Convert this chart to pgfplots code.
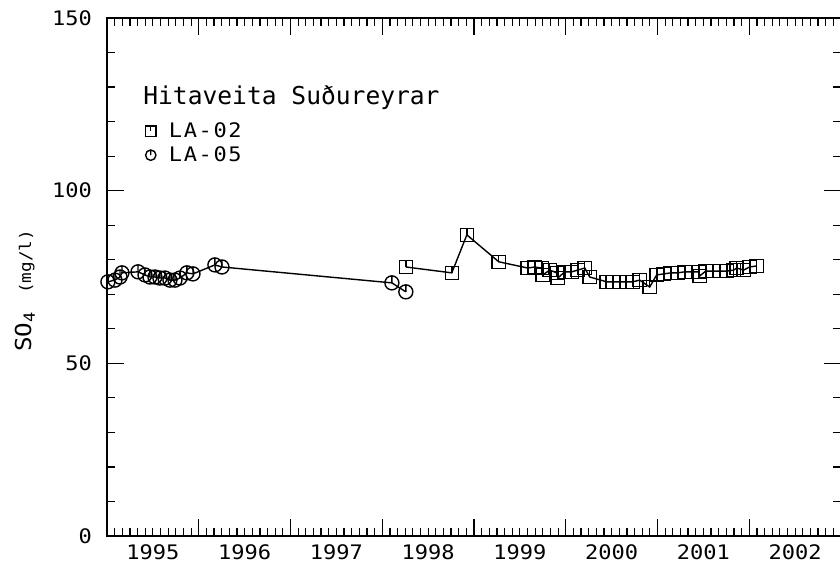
\documentclass[border=0pt]{standalone}
\usepackage{fontspec}
\setmainfont{DejaVu Sans Mono}[FakeStretch=1.1]
\newfontfamily\titlefont{DejaVu Sans Mono}
\usepackage{pgfplots}
\pgfplotsset{compat=1.18}

% square and circle marks with a short stroke from the top edge to the centre
\pgfdeclareplotmark{sqflag}{%
  \pgfpathrectangle{\pgfpoint{-\pgfplotmarksize}{-\pgfplotmarksize}}{\pgfpoint{2\pgfplotmarksize}{2\pgfplotmarksize}}%
  \pgfpathmoveto{\pgfpoint{0pt}{\pgfplotmarksize}}%
  \pgfpathlineto{\pgfpointorigin}%
  \pgfusepathqstroke}
\pgfdeclareplotmark{ciflag}{%
  \pgfpathcircle{\pgfpointorigin}{\pgfplotmarksize}%
  \pgfpathmoveto{\pgfpoint{0pt}{\pgfplotmarksize}}%
  \pgfpathlineto{\pgfpointorigin}%
  \pgfusepathqstroke}

\begin{document}
\begin{tikzpicture}
\begin{axis}[
  scale only axis,
  width=367pt, height=259pt,
  xmin=1995, xmax=2003,
  ymin=0, ymax=150,
  axis line style={line width=0.8pt},
  tick style={line width=0.6pt, black},
  tick align=inside,
  major tick length=8.5pt,
  minor tick length=4pt,
  xtick={1995,1996,1997,1998,1999,2000,2001,2002,2003},
  xticklabels={1995,1996,1997,1998,1999,2000,2001,2002},
  x tick label as interval,
  minor x tick num=11,
  ytick={0,50,100,150},
  yticklabels={0,50,100,150},
  minor y tick num=4,
  /pgf/number format/assume math mode=true,
  ticklabel style={font=\fontsize{10}{12}\selectfont},
  xticklabel style={yshift=-1pt},
  yticklabel style={xshift=-4pt},
  every axis y label/.style={at={(axis description cs:-0.112,0.473)},rotate=90,anchor=center},
  ylabel={\fontsize{11}{13}\selectfont SO\textsubscript{4}\hspace{9pt}{\fontsize{8}{9}\selectfont (mg/l)}},
  legend image code/.code={\draw[#1,only marks,mark size=2.6pt] plot coordinates {(0pt,0pt)};},
  legend style={draw=none, fill=none, inner sep=0pt,
    at={(axis description cs:0.052,0.805)}, anchor=north west,
    font=\fontsize{10}{12}\selectfont\addfontfeature{LetterSpace=8},
    row sep=0pt,
    nodes={inner sep=1.5pt},
    /tikz/column 1/.style={column sep=5pt}},
  legend cell align=left,
]

% LA-02
\addplot[black, line width=0.7pt, mark=sqflag, mark size=3.3pt,
  mark options={solid, line width=0.7pt}] coordinates {
  (1998.257,77.9) (1998.758,76.2) (1998.922,87.2) (1999.270,79.4)
  (1999.586,77.6) (1999.662,77.9) (1999.739,77.6) (1999.749,75.6)
  (1999.826,77.0) (1999.902,76.2) (1999.913,74.7) (1999.989,76.5)
  (2000.065,76.5) (2000.131,77.0) (2000.207,77.6) (2000.261,75.0)
  (2000.447,73.6) (2000.512,73.6) (2000.588,73.6) (2000.664,73.6)
  (2000.730,73.6) (2000.806,74.1) (2000.915,72.1) (2000.991,75.6)
  (2001.068,75.9) (2001.144,76.2) (2001.220,76.2) (2001.296,76.5)
  (2001.373,76.5) (2001.449,76.5) (2001.460,75.3) (2001.525,76.7)
  (2001.601,76.7) (2001.678,76.7) (2001.754,76.7) (2001.830,77.0)
  (2001.863,77.6) (2001.939,77.0) (2002.004,77.9) (2002.081,78.2)
};
\addlegendentry{LA-02}

% LA-05
\addplot[black, line width=0.7pt, mark=ciflag, mark size=3.5pt,
  mark options={solid, line width=0.7pt}] coordinates {
  (1995.010,73.6) (1995.087,74.1) (1995.142,75.0) (1995.163,76.2)
  (1995.338,76.5) (1995.414,75.6) (1995.468,75.0) (1995.523,75.0)
  (1995.577,74.7) (1995.632,74.7) (1995.686,74.1) (1995.741,74.1)
  (1995.795,74.7) (1995.871,76.2) (1995.937,75.9) (1996.176,78.5)
  (1996.253,77.9) (1998.105,73.3) (1998.257,70.7)
};
\addlegendentry{LA-05}

\node[anchor=west, inner sep=0pt, font=\titlefont\fontsize{12.3}{14}\selectfont]
  at (axis description cs:0.049,0.847) {Hitaveita Suðureyrar};
\end{axis}
\pgfresetboundingbox
\path ([xshift=-53.5pt,yshift=-20.5pt]current axis.south west)
  rectangle ([xshift=-0.5pt,yshift=9pt]current axis.north east);
\end{tikzpicture}
\end{document}
